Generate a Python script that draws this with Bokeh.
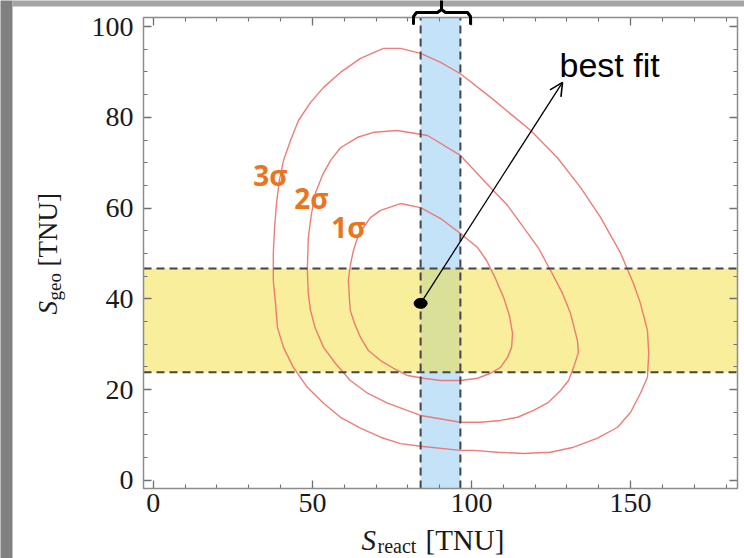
import math
from bokeh.plotting import figure
from bokeh.models import (Range1d, LinearAxis, Label, Arrow, OpenHead, BoxAnnotation,
                          PolyAnnotation, FixedTicker)
from bokeh.embed import file_html
from bokeh.resources import INLINE

# ---------------- data ----------------
x_ticks = [0, 50, 100, 150]
y_ticks = [0, 20, 40, 60, 80, 100]
x_tick_labels = ["0", "50", "100", "150"]
y_tick_labels = ["0", "20", "40", "60", "80", "100"]

react_band = [84.0, 96.5]     # S_react allowed range (blue)
geo_band = [23.8, 46.7]       # S_geo allowed range (yellow)
best_fit_x = [84.0]
best_fit_y = [39.0]
arrow_tip = [128.6, 87.7]

# 3 sigma contour
c3_x = [72.3, 77.7, 84.0, 90.3, 96.5, 106.0, 118.6, 127.0, 134.3, 140.6, 146.9, 150.9, 153.1,
        155.3, 155.7, 155.3, 153.1, 150.0, 145.9, 139.6, 132.1, 124.8, 116.4, 108.2, 100.6,
        96.5, 84.0, 77.7, 71.4, 65.1, 58.8, 53.5, 48.4, 44.0, 40.9, 39.0, 38.4, 37.7, 37.7,
        38.1, 38.7, 39.6, 40.9, 43.1, 45.6, 49.4, 53.5, 58.8, 65.1, 72.3]
c3_y = [95.2, 95.2, 94.1, 92.1, 89.6, 84.4, 77.1, 71.1, 64.5, 57.9, 50.0, 43.4, 39.0,
        33.0, 28.0, 22.7, 19.2, 15.0, 11.7, 9.3, 7.3, 6.2, 5.9, 6.2, 6.6,
        6.6, 7.5, 8.1, 9.5, 11.5, 13.9, 17.0, 20.5, 24.9, 29.3, 33.7, 39.0, 44.1, 50.0,
        55.7, 61.0, 66.1, 70.5, 74.9, 79.3, 83.3, 86.6, 89.9, 93.0, 95.2]

# 2 sigma contour
c2_x = [76.7, 86.2, 96.5, 106.0, 111.3, 116.4, 121.1, 124.8, 128.6, 131.1, 133.3, 133.6,
        132.1, 130.5, 128.0, 124.2, 119.5, 114.5, 109.1, 102.8, 96.5, 84.0, 73.6, 67.3,
        61.9, 57.2, 53.5, 50.9, 49.4, 48.7, 48.4, 48.7, 49.7, 50.9, 53.1, 55.7, 58.8, 64.2,
        69.2, 76.7]
c2_y = [77.1, 76.0, 71.6, 64.5, 60.6, 55.7, 51.1, 46.3, 41.2, 36.8, 30.8, 28.2,
        24.9, 22.0, 19.8, 17.2, 15.4, 13.9, 13.2, 12.8, 12.8, 14.3, 17.0, 19.2,
        22.0, 25.8, 29.3, 33.5, 37.4, 41.2, 46.3, 53.5, 58.8, 63.2, 67.2, 70.5, 73.3, 75.6,
        76.7, 77.1]

# 1 sigma contour
c1_x = [77.7, 84.0, 90.3, 96.5, 101.9, 104.7, 107.5, 110.1, 111.9, 112.9, 112.6, 111.3,
        109.1, 106.0, 101.9, 96.5, 90.3, 84.9, 79.9, 75.5, 71.4, 67.6, 65.1, 63.2, 61.9,
        61.6, 61.3, 61.9, 62.9, 64.2, 66.0, 68.2, 71.4, 77.7]
c1_y = [61.0, 60.1, 57.7, 54.4, 51.3, 48.5, 44.5, 40.3, 36.3, 32.4, 29.3, 27.1,
        24.9, 23.6, 22.5, 22.0, 22.0, 22.5, 23.1, 24.7, 26.4, 28.6, 31.5, 34.6, 37.4,
        40.3, 44.1, 47.4, 50.7, 53.5, 55.7, 57.9, 59.5, 61.0]

# ---------------- layout geometry ----------------
W, H = 744, 558
FL, FR, FT, FB = 143, 737, 17, 488          # plot box edges in pixels
XMIN, XMAX = -3.1, 183.6                    # plot box in data units
YMIN, YMAX = -1.8, 102.0

def X(px):
    return XMIN + (px - FL) * (XMAX - XMIN) / (FR - FL)

def Y(py):
    return YMAX - (py - FT) * (YMAX - YMIN) / (FB - FT)

p = figure(width=W, height=H, output_backend="svg", toolbar_location=None,
           x_range=Range1d(X(0), X(W)), y_range=Range1d(Y(H), Y(0)),
           min_border=0, min_border_left=0, min_border_right=0, min_border_top=0,
           min_border_bottom=0, x_axis_location=None, y_axis_location=None)
p.background_fill_color = "white"
p.border_fill_color = "white"
p.outline_line_color = None
p.xgrid.visible = False
p.ygrid.visible = False

x_minor = [v for v in range(0, 190, 10)]
y_minor = [v for v in range(0, 105, 5)]

def make_axis(ticks, minor, labels, loc, show_labels, standoff):
    ax = LinearAxis(ticker=FixedTicker(ticks=ticks, minor_ticks=minor),
                    major_label_overrides={t: (l if show_labels else "") for t, l in zip(ticks, labels)},
                    fixed_location=loc)
    ax.axis_line_alpha = 0
    ax.major_tick_in = 8
    ax.major_tick_out = 0
    ax.minor_tick_in = 4
    ax.minor_tick_out = 0
    ax.major_tick_line_color = "#707070"
    ax.minor_tick_line_color = "#707070"
    ax.major_tick_line_width = 1.3
    ax.minor_tick_line_width = 1.1
    ax.major_label_standoff = standoff
    if show_labels:
        ax.major_label_text_font = "Liberation Serif"
        ax.major_label_text_font_size = "28px"
        ax.major_label_text_color = "#1a1a1a"
    else:
        ax.major_label_text_font_size = "1px"
        ax.major_label_text_alpha = 0
    return ax

p.add_layout(make_axis(x_ticks, x_minor, x_tick_labels, YMIN, True, 5), "below")
p.add_layout(make_axis(y_ticks, y_minor, y_tick_labels, XMIN, True, 10), "left")
p.add_layout(make_axis(x_ticks, x_minor, x_tick_labels, YMAX, False, 0), "above")
p.add_layout(make_axis(y_ticks, y_minor, y_tick_labels, XMAX, False, 0), "right")

# ---------------- bands ----------------
p.add_layout(BoxAnnotation(left=react_band[0], right=react_band[1], bottom=YMIN, top=YMAX,
                           fill_color="#c5e3f8", fill_alpha=1.0, line_alpha=0, level="underlay"))
p.add_layout(BoxAnnotation(bottom=geo_band[0], top=geo_band[1], left=XMIN, right=XMAX,
                           fill_color="#f1dd37", fill_alpha=0.5, line_alpha=0, level="underlay"))

# ---------------- contours ----------------
for cx, cy in [(c3_x, c3_y), (c2_x, c2_y), (c1_x, c1_y)]:
    p.line(cx, cy, line_color="#ea6f6c", line_width=1.4, line_alpha=0.9, line_join="round")

# ---------------- dashed limits ----------------
p.segment(x0=react_band, y0=[YMIN, YMIN], x1=react_band, y1=[YMAX, YMAX],
          line_color="#454545", line_width=2, line_dash="8 5")
p.segment(x0=[XMIN, XMIN], y0=geo_band, x1=[XMAX, XMAX], y1=geo_band,
          line_color="#454545", line_width=2, line_dash="8 5")

# plot box outline
p.add_layout(BoxAnnotation(left=XMIN, right=XMAX, bottom=YMIN, top=YMAX, fill_alpha=0,
                           line_color="#8c8c8c", line_alpha=1, line_width=1.5))

# ---------------- best fit ----------------
p.add_layout(Arrow(end=OpenHead(size=13, line_width=1.6, line_color="black"),
                   x_start=best_fit_x[0], y_start=best_fit_y[0],
                   x_end=arrow_tip[0], y_end=arrow_tip[1],
                   line_color="black", line_width=1.3))
p.ellipse(x=best_fit_x, y=best_fit_y, width=13, height=10, width_units="screen",
          height_units="screen", fill_color="black", line_color="black")
p.add_layout(Label(x=X(559), y=Y(64), text="best fit", text_font="Liberation Sans",
                   text_font_size="34px", text_color="black", text_baseline="middle"))

# sigma labels
for txt, px, py in [("3σ", 270, 174), ("2σ", 311, 197), ("1σ", 348, 226)]:
    p.add_layout(Label(x=X(px), y=Y(py), text=txt, text_font="Open Sans",
                       text_font_style="bold", text_font_size="28px", text_color="#ea7420",
                       text_align="center", text_baseline="middle"))

# ---------------- axis titles (composed) ----------------
serif = "Liberation Serif"
ink = "#1a1a1a"
p.add_layout(Label(x=X(361), y=Y(539), text="S", text_font=serif, text_font_style="italic",
                   text_font_size="29px", text_color=ink, text_baseline="middle"))
p.add_layout(Label(x=X(377), y=Y(545), text="react", text_font=serif,
                   text_font_size="20px", text_color=ink, text_baseline="middle"))
p.add_layout(Label(x=X(425), y=Y(539), text="[TNU]", text_font=serif,
                   text_font_size="29px", text_color=ink, text_baseline="middle"))

rot = math.pi / 2
p.add_layout(Label(x=X(47), y=Y(314), text="S", text_font=serif, text_font_style="italic",
                   text_font_size="27px", text_color=ink, text_baseline="middle", angle=rot))
p.add_layout(Label(x=X(54), y=Y(300), text="geo", text_font=serif,
                   text_font_size="19px", text_color=ink, text_baseline="middle", angle=rot))
p.add_layout(Label(x=X(47), y=Y(266), text="[TNU]", text_font=serif,
                   text_font_size="27px", text_color=ink, text_baseline="middle", angle=rot))

# ---------------- slide border & brace ----------------
p.add_layout(BoxAnnotation(left=X(-5), right=X(12), bottom=Y(H + 5), top=Y(-5),
                           fill_color="#808080", fill_alpha=1, line_alpha=0))
p.add_layout(BoxAnnotation(left=X(12), right=X(W + 5), bottom=Y(6), top=Y(-5),
                           fill_color="#a4a4a4", fill_alpha=1, line_alpha=0))

bx = [413, 413, 416, 437, 441, 441, 441, 445, 467, 470, 470]
by = [23, 16, 12, 12, 9, -3, 9, 12, 12, 16, 23]
xs = [X(v) for v in bx] + [X(v) for v in reversed(bx)]
ys = [Y(v) for v in by] + [Y(v) for v in reversed(by)]
p.add_layout(PolyAnnotation(xs=xs, ys=ys, fill_alpha=0, line_color="black", line_alpha=1,
                            line_width=3, line_join="round"))

open("out.html", "w").write(file_html(p, INLINE))
